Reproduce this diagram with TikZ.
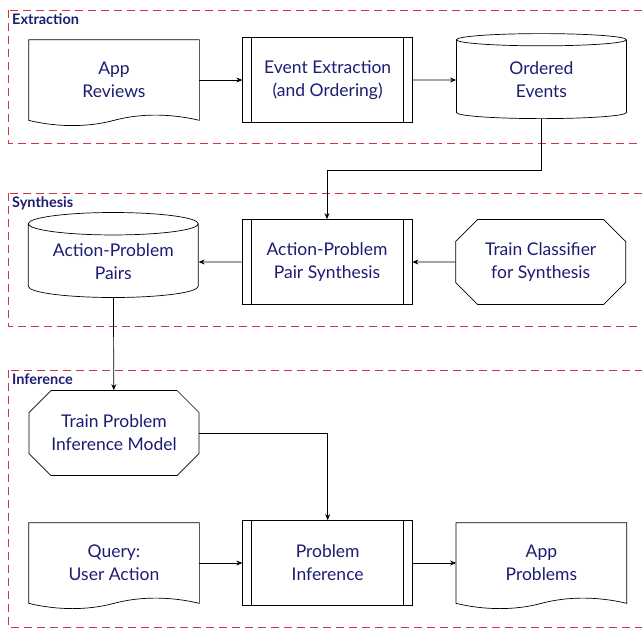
\documentclass[tikz,border=0pt]{standalone}
\usepackage{fontspec}
\setmainfont{Lato}
\usetikzlibrary{shapes.geometric,shapes.misc,arrows.meta,positioning}
\definecolor{labelblue}{RGB}{28,28,115}
\definecolor{framered}{RGB}{212,52,64}
\tikzset{
    box/.style={align=center, text=labelblue, minimum width=170pt, minimum height=85pt,
        inner sep=2pt, line width=0.7pt, font=\fontsize{17.5}{23}\selectfont},
    process/.style={box, draw, path picture={
        \draw[line width=0.7pt] ([xshift=9pt]path picture bounding box.north west) -- ([xshift=9pt]path picture bounding box.south west)
            ([xshift=-9pt]path picture bounding box.north east) -- ([xshift=-9pt]path picture bounding box.south east);}},
    docnode/.style={box, minimum height=80pt, append after command={\pgfextra{\let\docname\tikzlastnode
        \draw[line width=0.7pt] (\docname.north west) -- (\docname.north east) -- (\docname.south east)
            .. controls +(-29,-7) and +(26,-7) .. (\docname.south)
            .. controls +(-26,7) and +(29,7) .. (\docname.south west) -- cycle;}}},
    store/.style={box, draw, cylinder, shape border rotate=90, aspect=0.18},
    trainbox/.style={box, draw, chamfered rectangle, chamfered rectangle xsep=11pt, chamfered rectangle ysep=11pt},
    phase/.style={draw=framered, dash pattern=on 8pt off 5pt, line width=0.7pt},
    phaselabel/.style={anchor=base west, inner sep=0pt, text=labelblue, font=\bfseries\fontsize{14.5}{16}\selectfont},
    flow/.style={-{Stealth[length=6pt,width=5pt]}, line width=0.7pt}
}

\begin{document}
\begin{tikzpicture}[x=1pt, y=-1pt]
\useasboundingbox (0,0) rectangle (642,629);

% Phases
\draw[phase] (8,10) rectangle (660,143);
\node[phaselabel] (lblextract) at (12,24) {Extraction};
\draw[phase] (8,193) rectangle (660,326);
\node[phaselabel] (lblsynth) at (12,207) {Synthesis};
\draw[phase] (8,370) rectangle (660,627);
\node[phaselabel] (lblinfer) at (12,384) {Inference};

% Extraction
\node[docnode] (reviews) at (114,80) {App\\Reviews};
\node[process, right=43pt of reviews] (extract) {Event Extraction\\(and Ordering)};
\node[store, right=43pt of extract] (events) {Ordered\\Events};

% Synthesis
\node[process] (synth) at (327,262) {Action-Problem\\Pair Synthesis};
\node[store, left=43pt of synth] (pairs) {Action-Problem\\Pairs};
\node[trainbox, right=43pt of synth] (classifier) {Train Classifier\\for Synthesis};

% Inference
\node[trainbox] (trainpim) at (114,433) {Train Problem\\Inference Model};
\node[docnode] (query) at (114,563) {Query:\\User Action};
\node[process, right=43pt of query] (infer) {Problem\\Inference};
\node[docnode, right=43pt of infer] (problems) {App\\Problems};

% Arrows
\draw[flow] (reviews) -- (extract);
\draw[flow] (extract) -- (events);
\draw[flow] (events.south) -- ++(0,51) -| (synth.north);
\draw[flow] (classifier) -- (synth);
\draw[flow] (synth) -- (pairs);
\draw[flow] (pairs) -- (trainpim);
\draw[flow] (trainpim.east) -| (infer.north);
\draw[flow] (query) -- (infer);
\draw[flow] (infer) -- (problems);
\end{tikzpicture}
\end{document}
